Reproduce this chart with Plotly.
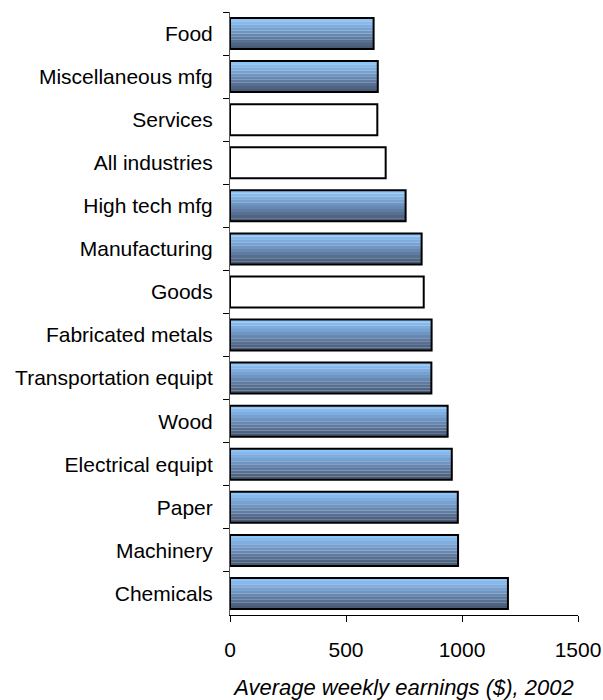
import plotly.graph_objects as go

categories = ["Food", "Miscellaneous mfg", "Services", "All industries", "High tech mfg",
              "Manufacturing", "Goods", "Fabricated metals", "Transportation equipt",
              "Wood", "Electrical equipt", "Paper", "Machinery", "Chemicals"]
earnings = [619, 637, 635, 671, 757, 826, 835, 869, 868, 938, 956, 982, 983, 1198]
aggregate_groups = ["Services", "All industries", "Goods"]

x_ticks = [0, 500, 1000, 1500]
x_title = "Average weekly earnings ($), 2002"

# top (light) -> bottom (dark)
stripe_colors = ["#8fc4f7", "#87b9eb", "#7fadde", "#77a1d0", "#6f95c1",
                 "#6788b1", "#5f7ba1", "#576f91", "#4f6483", "#475a76"]

FONT = "Liberation Sans, Arial, sans-serif"
FS = 21
BAR_W = 0.72
n = len(stripe_colors)
sw = BAR_W / n

fig = go.Figure()
for k, col in enumerate(stripe_colors):
    colors = ["#ffffff" if c in aggregate_groups else col for c in categories]
    fig.add_trace(go.Bar(
        x=earnings, y=categories, orientation="h",
        width=sw * 1.02, offset=-BAR_W / 2 + k * sw,
        marker=dict(color=colors, line=dict(width=0)),
        hoverinfo="skip", showlegend=False,
    ))
# outline
fig.add_trace(go.Bar(
    x=earnings, y=categories, orientation="h",
    width=BAR_W, offset=-BAR_W / 2,
    marker=dict(color="rgba(0,0,0,0)", line=dict(color="#000000", width=2)),
    showlegend=False,
))

fig.update_layout(
    width=603, height=700, autosize=False,
    margin=dict(l=230, r=25, t=12, b=85, autoexpand=False),
    barmode="overlay",
    plot_bgcolor="#ffffff", paper_bgcolor="#ffffff",
    font=dict(family=FONT, size=FS, color="#000000"),
    xaxis=dict(
        range=[0, 1500], tickvals=x_ticks, ticktext=[str(v) for v in x_ticks],
        showgrid=False, zeroline=False, automargin=False,
        showline=True, linecolor="#000000", linewidth=1,
        ticks="outside", ticklen=6, tickcolor="#000000",
        ticklabelstandoff=10,
        tickfont=dict(family=FONT, size=FS),
        title=dict(text="<i>" + x_title + "</i>", font=dict(family=FONT, size=22), standoff=19),
    ),
    yaxis=dict(
        type="category", categoryorder="array", categoryarray=categories,
        autorange="reversed", automargin=False,
        showgrid=False, zeroline=False,
        showline=True, linecolor="#555555", linewidth=1,
        ticks="outside", ticklen=6, tickcolor="#000000",
        tickson="boundaries", ticklabelstandoff=12,
        tickfont=dict(family=FONT, size=FS),
    ),
)

fig.write_html(
    "out.html",
    config={"displayModeBar": False},
    post_script="document.body.style.margin='0';document.body.style.overflow='hidden';",
)
